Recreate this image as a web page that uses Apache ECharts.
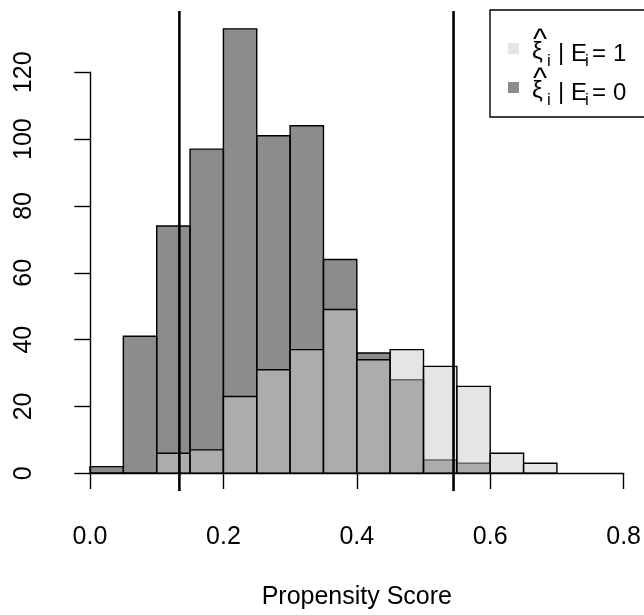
<!DOCTYPE html>
<html>
<head>
<meta charset="utf-8">
<title>Propensity Score</title>
<script src="https://cdn.jsdelivr.net/npm/echarts@6/dist/echarts.min.js"></script>
<style>
  html, body { margin: 0; padding: 0; background: #fff; }
  #chart { width: 644px; height: 615px; }
</style>
</head>
<body>
<div id="chart"></div>
<script>
// Histogram bin edges (width 0.05)
const breaks = [0, 0.05, 0.10, 0.15, 0.20, 0.25, 0.30, 0.35, 0.40, 0.45, 0.50, 0.55, 0.60, 0.65, 0.70];
// Counts per bin for each group
const countsE0 = [2, 41, 74, 97, 133, 101, 104, 64, 36, 28, 4, 3, 0, 0];
const countsE1 = [0, 0, 6, 7, 23, 31, 37, 49, 34, 37, 32, 26, 6, 3];
// Vertical reference lines
const cutoffs = [0.134, 0.545];
// Axis ticks
const xTicks = [0, 0.2, 0.4, 0.6, 0.8];
const yTicks = [0, 20, 40, 60, 80, 100, 120];

const FONT = 'Liberation Sans, Arial, Helvetica, sans-serif';
const fillE1 = 'rgba(204,204,204,0.5)';
const fillE0 = 'rgba(25,25,25,0.5)';

// plot region extends 4% past the data range; the reference lines span it
const yMaxData = Math.max(...countsE0, ...countsE1);
const yLo = -0.04 * yMaxData;
const yHi = yMaxData * 1.04;

function histSeries(name, counts, fill) {
  return {
    type: 'custom',
    name: name,
    clip: false,
    data: counts.map((c, i) => [breaks[i], breaks[i + 1], c]),
    encode: { x: [0, 1], y: 2 },
    renderItem: function (params, api) {
      const p0 = api.coord([api.value(0), 0]);
      const p1 = api.coord([api.value(1), api.value(2)]);
      return {
        type: 'rect',
        shape: { x: p0[0], y: p1[1], width: p1[0] - p0[0], height: p0[1] - p1[1] },
        style: { fill: fill, stroke: '#000', lineWidth: 1.4 }
      };
    }
  };
}

// one legend entry: swatch + hat(xi)_i | E_i = value, placed on a text baseline
function legendRow(baseY, value, fill) {
  const t = (text, x, base, size) => ({
    type: 'text', x: x, y: base - 0.35 * size,
    style: {
      text: text, fontFamily: FONT, fontSize: size, fill: '#000',
      align: 'left', verticalAlign: 'middle'
    }
  });
  return [
    { type: 'rect', shape: { x: 508, y: baseY - 20, width: 11, height: 11 }, style: { fill: fill } },
    t('^', 533, baseY - 11.5, 30),
    t('ξ', 532, baseY - 2, 24),
    t('i', 547, baseY + 4, 17),
    t('|', 558, baseY - 1, 24),
    t('E', 571, baseY, 24),
    t('i', 585, baseY + 4, 17),
    t('=', 592, baseY, 24),
    t(value, 613, baseY, 24)
  ];
}

const chart = echarts.init(document.getElementById('chart'), null, { renderer: 'canvas' });

chart.setOption({
  animation: false,
  backgroundColor: '#fff',
  grid: { left: 90, right: 19, top: 72.3, bottom: 137.7, containLabel: false },
  xAxis: {
    type: 'value',
    min: xTicks[0], max: xTicks[xTicks.length - 1], interval: 0.2,
    offset: 17.7,
    name: 'Propensity Score',
    nameLocation: 'middle',
    nameGap: 94,
    nameTextStyle: { fontFamily: FONT, fontSize: 25, color: '#000', verticalAlign: 'top' },
    axisLine: { show: true, lineStyle: { color: '#000', width: 1.4 } },
    axisTick: { show: true, length: 15.7, lineStyle: { color: '#000', width: 1.4 } },
    axisLabel: {
      fontFamily: FONT, fontSize: 25, color: '#000', margin: 34,
      formatter: v => v.toFixed(1)
    },
    splitLine: { show: false }
  },
  yAxis: {
    type: 'value',
    min: yTicks[0], max: yTicks[yTicks.length - 1], interval: 20,
    offset: 21,
    axisLine: { show: true, lineStyle: { color: '#000', width: 1.4 } },
    axisTick: { show: true, length: 15.7, lineStyle: { color: '#000', width: 1.4 } },
    axisLabel: { fontFamily: FONT, fontSize: 25, color: '#000', rotate: 90, margin: 32 },
    splitLine: { show: false }
  },
  series: [
    histSeries('E0', countsE0, fillE0),
    histSeries('E1', countsE1, fillE1),
    {
      type: 'custom',
      name: 'cutoffs',
      clip: false,
      data: cutoffs,
      encode: { x: 0 },
      renderItem: function (params, api) {
        const a = api.coord([api.value(0), yLo]);
        const b = api.coord([api.value(0), yHi]);
        return {
          type: 'line',
          shape: { x1: a[0], y1: a[1], x2: b[0], y2: b[1] },
          style: { stroke: '#000', lineWidth: 2.6 }
        };
      }
    }
  ],
  graphic: [
    {
      type: 'group',
      children: [
        { type: 'rect', shape: { x: 490, y: 10, width: 160, height: 107 },
          style: { fill: '#fff', stroke: '#000', lineWidth: 1.4 } }
      ].concat(legendRow(63, '1', fillE1), legendRow(102, '0', fillE0))
    }
  ]
});
</script>
</body>
</html>
